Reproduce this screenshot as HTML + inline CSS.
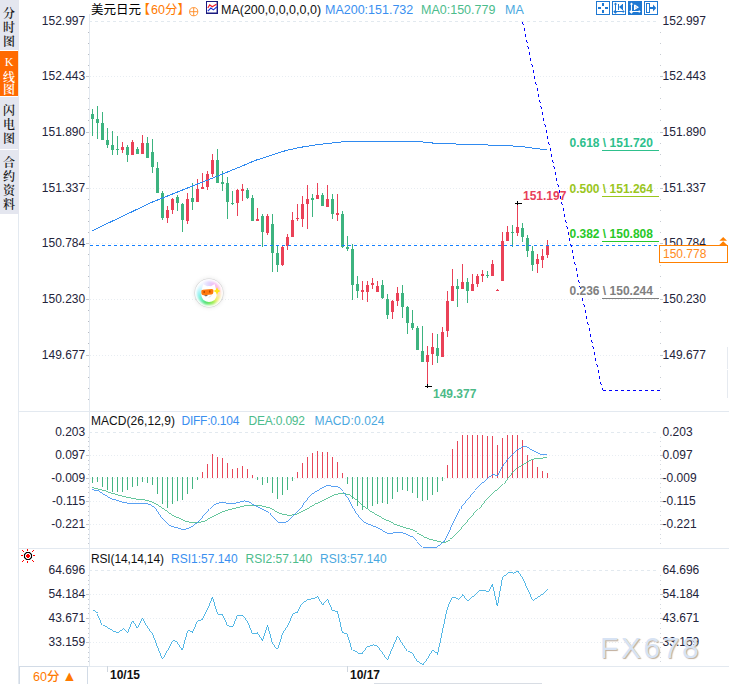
<!DOCTYPE html>
<html lang="zh-CN">
<head>
<meta charset="utf-8">
<title>美元日元 60分 K线图</title>
<style>
html,body{margin:0;padding:0;background:#fff;}
body{width:729px;height:684px;overflow:hidden;position:relative;font-family:"Liberation Sans","Noto Sans CJK SC",sans-serif;font-size:12px;color:#1a1a2a;}
#wrap{position:absolute;left:0;top:0;width:729px;height:684px;overflow:hidden;background:#fff;}
#chart{position:absolute;left:0;top:0;}
.t{position:absolute;white-space:nowrap;line-height:14px;height:14px;}
.ax{font-size:12px;color:#23233a;}
.r{text-align:right;}
.side{position:absolute;left:0;top:0;width:18px;}
.tab{position:absolute;left:0;width:18px;background:#e4e6ef;color:#1a1a1a;font-weight:600;text-align:center;font-family:"Liberation Serif","Noto Serif CJK SC",serif;font-size:12px;line-height:14px;}
.tab{border-right:1px solid #e4e6ef;}
.tab.on{background:#ff6a00;color:#fff;border-right-color:#f3e4d8;}
.tab span{display:block;}
.hd{top:2.8px;font-size:12.5px;line-height:15px;height:15px;}
.fib{font-weight:bold;font-size:12px;}
.ttl{font-size:12px;line-height:15px;height:15px;}
.ic{position:absolute;top:1px;width:12px;height:12px;border:1px solid #1e78d2;background:#fff;}
</style>
</head>
<body>
<div id="wrap">
<svg id="chart" width="729" height="684" viewBox="0 0 729 684">
<g shape-rendering="crispEdges">
<rect x="18" y="0" width="1" height="684" fill="#e3e9f0"/>
<rect x="89" y="14" width="1" height="652" fill="#e3e9f0"/>
<rect x="19" y="411" width="710" height="1" fill="#e3e9f0"/>
<rect x="19" y="548" width="710" height="1" fill="#e3e9f0"/>
<rect x="19" y="666" width="710" height="1" fill="#e3e9f0"/>
<line x1="89" x2="657" y1="21.5" y2="21.5" stroke="#e2e9ef" stroke-dasharray="3 3"/>
<line x1="90" x2="659" y1="76.5" y2="76.5" stroke="#e8edf2" stroke-dasharray="1 2"/>
<line x1="90" x2="659" y1="132.5" y2="132.5" stroke="#e8edf2" stroke-dasharray="1 2"/>
<line x1="90" x2="659" y1="188.5" y2="188.5" stroke="#e8edf2" stroke-dasharray="1 2"/>
<line x1="90" x2="659" y1="243.5" y2="243.5" stroke="#e8edf2" stroke-dasharray="1 2"/>
<line x1="90" x2="659" y1="299.5" y2="299.5" stroke="#e8edf2" stroke-dasharray="1 2"/>
<line x1="90" x2="659" y1="355.5" y2="355.5" stroke="#e8edf2" stroke-dasharray="1 2"/>
<line x1="89" x2="657" y1="432.5" y2="432.5" stroke="#e2e9ef" stroke-dasharray="3 3"/>
<line x1="90" x2="659" y1="455.5" y2="455.5" stroke="#e8edf2" stroke-dasharray="1 2"/>
<line x1="90" x2="659" y1="478.5" y2="478.5" stroke="#e8edf2" stroke-dasharray="1 2"/>
<line x1="90" x2="659" y1="501.5" y2="501.5" stroke="#e8edf2" stroke-dasharray="1 2"/>
<line x1="90" x2="659" y1="524.5" y2="524.5" stroke="#e8edf2" stroke-dasharray="1 2"/>
<line x1="89" x2="657" y1="570.5" y2="570.5" stroke="#e2e9ef" stroke-dasharray="3 3"/>
<line x1="90" x2="659" y1="594.5" y2="594.5" stroke="#e8edf2" stroke-dasharray="1 2"/>
<line x1="90" x2="659" y1="618.5" y2="618.5" stroke="#e8edf2" stroke-dasharray="1 2"/>
<line x1="90" x2="659" y1="642.5" y2="642.5" stroke="#e8edf2" stroke-dasharray="1 2"/>
<rect x="88" y="32" width="1" height="1" fill="#b8bcc4"/>
<rect x="660" y="32" width="1" height="1" fill="#c8ccd2"/>
<rect x="88" y="43" width="1" height="1" fill="#b8bcc4"/>
<rect x="660" y="43" width="1" height="1" fill="#c8ccd2"/>
<rect x="88" y="54" width="1" height="1" fill="#b8bcc4"/>
<rect x="660" y="54" width="1" height="1" fill="#c8ccd2"/>
<rect x="88" y="65" width="1" height="1" fill="#b8bcc4"/>
<rect x="660" y="65" width="1" height="1" fill="#c8ccd2"/>
<rect x="86" y="76" width="3" height="1" fill="#c4c8ce"/>
<rect x="660" y="76" width="3" height="1" fill="#c4c8ce"/>
<rect x="88" y="87" width="1" height="1" fill="#b8bcc4"/>
<rect x="660" y="87" width="1" height="1" fill="#c8ccd2"/>
<rect x="88" y="98" width="1" height="1" fill="#b8bcc4"/>
<rect x="660" y="98" width="1" height="1" fill="#c8ccd2"/>
<rect x="88" y="109" width="1" height="1" fill="#b8bcc4"/>
<rect x="660" y="109" width="1" height="1" fill="#c8ccd2"/>
<rect x="88" y="120" width="1" height="1" fill="#b8bcc4"/>
<rect x="660" y="120" width="1" height="1" fill="#c8ccd2"/>
<rect x="86" y="132" width="3" height="1" fill="#c4c8ce"/>
<rect x="660" y="132" width="3" height="1" fill="#c4c8ce"/>
<rect x="88" y="143" width="1" height="1" fill="#b8bcc4"/>
<rect x="660" y="143" width="1" height="1" fill="#c8ccd2"/>
<rect x="88" y="154" width="1" height="1" fill="#b8bcc4"/>
<rect x="660" y="154" width="1" height="1" fill="#c8ccd2"/>
<rect x="88" y="165" width="1" height="1" fill="#b8bcc4"/>
<rect x="660" y="165" width="1" height="1" fill="#c8ccd2"/>
<rect x="88" y="176" width="1" height="1" fill="#b8bcc4"/>
<rect x="660" y="176" width="1" height="1" fill="#c8ccd2"/>
<rect x="86" y="188" width="3" height="1" fill="#c4c8ce"/>
<rect x="660" y="188" width="3" height="1" fill="#c4c8ce"/>
<rect x="88" y="199" width="1" height="1" fill="#b8bcc4"/>
<rect x="660" y="199" width="1" height="1" fill="#c8ccd2"/>
<rect x="88" y="210" width="1" height="1" fill="#b8bcc4"/>
<rect x="660" y="210" width="1" height="1" fill="#c8ccd2"/>
<rect x="88" y="221" width="1" height="1" fill="#b8bcc4"/>
<rect x="660" y="221" width="1" height="1" fill="#c8ccd2"/>
<rect x="88" y="232" width="1" height="1" fill="#b8bcc4"/>
<rect x="660" y="232" width="1" height="1" fill="#c8ccd2"/>
<rect x="86" y="243" width="3" height="1" fill="#c4c8ce"/>
<rect x="660" y="243" width="3" height="1" fill="#c4c8ce"/>
<rect x="88" y="254" width="1" height="1" fill="#b8bcc4"/>
<rect x="660" y="254" width="1" height="1" fill="#c8ccd2"/>
<rect x="88" y="265" width="1" height="1" fill="#b8bcc4"/>
<rect x="660" y="265" width="1" height="1" fill="#c8ccd2"/>
<rect x="88" y="276" width="1" height="1" fill="#b8bcc4"/>
<rect x="660" y="276" width="1" height="1" fill="#c8ccd2"/>
<rect x="88" y="287" width="1" height="1" fill="#b8bcc4"/>
<rect x="660" y="287" width="1" height="1" fill="#c8ccd2"/>
<rect x="86" y="299" width="3" height="1" fill="#c4c8ce"/>
<rect x="660" y="299" width="3" height="1" fill="#c4c8ce"/>
<rect x="88" y="310" width="1" height="1" fill="#b8bcc4"/>
<rect x="660" y="310" width="1" height="1" fill="#c8ccd2"/>
<rect x="88" y="321" width="1" height="1" fill="#b8bcc4"/>
<rect x="660" y="321" width="1" height="1" fill="#c8ccd2"/>
<rect x="88" y="332" width="1" height="1" fill="#b8bcc4"/>
<rect x="660" y="332" width="1" height="1" fill="#c8ccd2"/>
<rect x="88" y="343" width="1" height="1" fill="#b8bcc4"/>
<rect x="660" y="343" width="1" height="1" fill="#c8ccd2"/>
<rect x="86" y="355" width="3" height="1" fill="#c4c8ce"/>
<rect x="660" y="355" width="3" height="1" fill="#c4c8ce"/>
<rect x="88" y="366" width="1" height="1" fill="#b8bcc4"/>
<rect x="660" y="366" width="1" height="1" fill="#c8ccd2"/>
<rect x="88" y="377" width="1" height="1" fill="#b8bcc4"/>
<rect x="660" y="377" width="1" height="1" fill="#c8ccd2"/>
<rect x="88" y="388" width="1" height="1" fill="#b8bcc4"/>
<rect x="660" y="388" width="1" height="1" fill="#c8ccd2"/>
<rect x="88" y="399" width="1" height="1" fill="#b8bcc4"/>
<rect x="660" y="399" width="1" height="1" fill="#c8ccd2"/>
<rect x="88" y="437" width="1" height="1" fill="#c4c8d0"/>
<rect x="660" y="437" width="1" height="1" fill="#d4d8de"/>
<rect x="88" y="441" width="1" height="1" fill="#c4c8d0"/>
<rect x="660" y="441" width="1" height="1" fill="#d4d8de"/>
<rect x="88" y="446" width="1" height="1" fill="#c4c8d0"/>
<rect x="660" y="446" width="1" height="1" fill="#d4d8de"/>
<rect x="88" y="450" width="1" height="1" fill="#c4c8d0"/>
<rect x="660" y="450" width="1" height="1" fill="#d4d8de"/>
<rect x="86" y="455" width="3" height="1" fill="#c4c8ce"/>
<rect x="660" y="455" width="3" height="1" fill="#c4c8ce"/>
<rect x="88" y="460" width="1" height="1" fill="#c4c8d0"/>
<rect x="660" y="460" width="1" height="1" fill="#d4d8de"/>
<rect x="88" y="464" width="1" height="1" fill="#c4c8d0"/>
<rect x="660" y="464" width="1" height="1" fill="#d4d8de"/>
<rect x="88" y="469" width="1" height="1" fill="#c4c8d0"/>
<rect x="660" y="469" width="1" height="1" fill="#d4d8de"/>
<rect x="88" y="474" width="1" height="1" fill="#c4c8d0"/>
<rect x="660" y="474" width="1" height="1" fill="#d4d8de"/>
<rect x="86" y="478" width="3" height="1" fill="#c4c8ce"/>
<rect x="660" y="478" width="3" height="1" fill="#c4c8ce"/>
<rect x="88" y="483" width="1" height="1" fill="#c4c8d0"/>
<rect x="660" y="483" width="1" height="1" fill="#d4d8de"/>
<rect x="88" y="487" width="1" height="1" fill="#c4c8d0"/>
<rect x="660" y="487" width="1" height="1" fill="#d4d8de"/>
<rect x="88" y="492" width="1" height="1" fill="#c4c8d0"/>
<rect x="660" y="492" width="1" height="1" fill="#d4d8de"/>
<rect x="88" y="497" width="1" height="1" fill="#c4c8d0"/>
<rect x="660" y="497" width="1" height="1" fill="#d4d8de"/>
<rect x="86" y="501" width="3" height="1" fill="#c4c8ce"/>
<rect x="660" y="501" width="3" height="1" fill="#c4c8ce"/>
<rect x="88" y="506" width="1" height="1" fill="#c4c8d0"/>
<rect x="660" y="506" width="1" height="1" fill="#d4d8de"/>
<rect x="88" y="511" width="1" height="1" fill="#c4c8d0"/>
<rect x="660" y="511" width="1" height="1" fill="#d4d8de"/>
<rect x="88" y="515" width="1" height="1" fill="#c4c8d0"/>
<rect x="660" y="515" width="1" height="1" fill="#d4d8de"/>
<rect x="88" y="520" width="1" height="1" fill="#c4c8d0"/>
<rect x="660" y="520" width="1" height="1" fill="#d4d8de"/>
<rect x="86" y="524" width="3" height="1" fill="#c4c8ce"/>
<rect x="660" y="524" width="3" height="1" fill="#c4c8ce"/>
<rect x="88" y="529" width="1" height="1" fill="#c4c8d0"/>
<rect x="660" y="529" width="1" height="1" fill="#d4d8de"/>
<rect x="88" y="534" width="1" height="1" fill="#c4c8d0"/>
<rect x="660" y="534" width="1" height="1" fill="#d4d8de"/>
<rect x="88" y="538" width="1" height="1" fill="#c4c8d0"/>
<rect x="660" y="538" width="1" height="1" fill="#d4d8de"/>
<rect x="88" y="543" width="1" height="1" fill="#c4c8d0"/>
<rect x="660" y="543" width="1" height="1" fill="#d4d8de"/>
<rect x="88" y="575" width="1" height="1" fill="#c4c8d0"/>
<rect x="660" y="575" width="1" height="1" fill="#d4d8de"/>
<rect x="88" y="580" width="1" height="1" fill="#c4c8d0"/>
<rect x="660" y="580" width="1" height="1" fill="#d4d8de"/>
<rect x="88" y="584" width="1" height="1" fill="#c4c8d0"/>
<rect x="660" y="584" width="1" height="1" fill="#d4d8de"/>
<rect x="88" y="589" width="1" height="1" fill="#c4c8d0"/>
<rect x="660" y="589" width="1" height="1" fill="#d4d8de"/>
<rect x="86" y="594" width="3" height="1" fill="#c4c8ce"/>
<rect x="660" y="594" width="3" height="1" fill="#c4c8ce"/>
<rect x="88" y="599" width="1" height="1" fill="#c4c8d0"/>
<rect x="660" y="599" width="1" height="1" fill="#d4d8de"/>
<rect x="88" y="604" width="1" height="1" fill="#c4c8d0"/>
<rect x="660" y="604" width="1" height="1" fill="#d4d8de"/>
<rect x="88" y="608" width="1" height="1" fill="#c4c8d0"/>
<rect x="660" y="608" width="1" height="1" fill="#d4d8de"/>
<rect x="88" y="613" width="1" height="1" fill="#c4c8d0"/>
<rect x="660" y="613" width="1" height="1" fill="#d4d8de"/>
<rect x="86" y="618" width="3" height="1" fill="#c4c8ce"/>
<rect x="660" y="618" width="3" height="1" fill="#c4c8ce"/>
<rect x="88" y="623" width="1" height="1" fill="#c4c8d0"/>
<rect x="660" y="623" width="1" height="1" fill="#d4d8de"/>
<rect x="88" y="628" width="1" height="1" fill="#c4c8d0"/>
<rect x="660" y="628" width="1" height="1" fill="#d4d8de"/>
<rect x="88" y="633" width="1" height="1" fill="#c4c8d0"/>
<rect x="660" y="633" width="1" height="1" fill="#d4d8de"/>
<rect x="88" y="637" width="1" height="1" fill="#c4c8d0"/>
<rect x="660" y="637" width="1" height="1" fill="#d4d8de"/>
<rect x="86" y="642" width="3" height="1" fill="#c4c8ce"/>
<rect x="660" y="642" width="3" height="1" fill="#c4c8ce"/>
<rect x="88" y="647" width="1" height="1" fill="#c4c8d0"/>
<rect x="660" y="647" width="1" height="1" fill="#d4d8de"/>
<rect x="88" y="652" width="1" height="1" fill="#c4c8d0"/>
<rect x="660" y="652" width="1" height="1" fill="#d4d8de"/>
<rect x="88" y="657" width="1" height="1" fill="#c4c8d0"/>
<rect x="660" y="657" width="1" height="1" fill="#d4d8de"/>
<rect x="88" y="661" width="1" height="1" fill="#c4c8d0"/>
<rect x="660" y="661" width="1" height="1" fill="#d4d8de"/>
<rect x="107" y="666" width="1" height="6" fill="#cfd6de"/>
<rect x="347" y="666" width="1" height="6" fill="#cfd6de"/>
<rect x="374" y="683" width="168" height="1" fill="#d8dde4"/>
<rect x="727" y="347" width="1" height="22" fill="#e6eaf0"/><rect x="727" y="370" width="1" height="28" fill="#e6eaf0"/>
</g>
<g shape-rendering="crispEdges">
<rect x="92.0" y="109" width="1" height="27" fill="#3db37f"/>
<rect x="91.0" y="114" width="3" height="5" fill="#3db37f"/>
<rect x="97.0" y="106" width="1" height="33" fill="#3db37f"/>
<rect x="96.0" y="119" width="3" height="4" fill="#3db37f"/>
<rect x="102.0" y="112" width="1" height="28" fill="#3db37f"/>
<rect x="101.0" y="123" width="3" height="17" fill="#3db37f"/>
<rect x="107.0" y="128" width="1" height="20" fill="#3db37f"/>
<rect x="106.0" y="140" width="3" height="5" fill="#3db37f"/>
<rect x="112.0" y="131" width="1" height="24" fill="#3db37f"/>
<rect x="111.0" y="145" width="3" height="5" fill="#3db37f"/>
<rect x="117.0" y="136" width="1" height="19" fill="#3db37f"/>
<rect x="116.0" y="149" width="3" height="1" fill="#3db37f"/>
<rect x="122.0" y="142" width="1" height="11" fill="#ea4157"/>
<rect x="121.0" y="147" width="3" height="3" fill="#ea4157"/>
<rect x="127.0" y="145" width="1" height="17" fill="#3db37f"/>
<rect x="126.0" y="147" width="3" height="8" fill="#3db37f"/>
<rect x="132.0" y="140" width="1" height="15" fill="#ea4157"/>
<rect x="131.0" y="142" width="3" height="13" fill="#ea4157"/>
<rect x="137.0" y="147" width="1" height="7" fill="#3db37f"/>
<rect x="136.0" y="149" width="3" height="5" fill="#3db37f"/>
<rect x="142.0" y="135" width="1" height="19" fill="#ea4157"/>
<rect x="141.0" y="143" width="3" height="11" fill="#ea4157"/>
<rect x="147.0" y="137" width="1" height="21" fill="#3db37f"/>
<rect x="146.0" y="143" width="3" height="15" fill="#3db37f"/>
<rect x="152.0" y="139" width="1" height="34" fill="#3db37f"/>
<rect x="151.0" y="152" width="3" height="15" fill="#3db37f"/>
<rect x="157.0" y="162" width="1" height="31" fill="#3db37f"/>
<rect x="156.0" y="168" width="3" height="25" fill="#3db37f"/>
<rect x="162.0" y="191" width="1" height="29" fill="#3db37f"/>
<rect x="161.0" y="193" width="3" height="25" fill="#3db37f"/>
<rect x="167.0" y="206" width="1" height="17" fill="#ea4157"/>
<rect x="166.0" y="210" width="3" height="8" fill="#ea4157"/>
<rect x="172.0" y="198" width="1" height="16" fill="#ea4157"/>
<rect x="171.0" y="199" width="3" height="11" fill="#ea4157"/>
<rect x="177.0" y="195" width="1" height="16" fill="#3db37f"/>
<rect x="176.0" y="197" width="3" height="6" fill="#3db37f"/>
<rect x="182.0" y="203" width="1" height="29" fill="#3db37f"/>
<rect x="181.0" y="204" width="3" height="16" fill="#3db37f"/>
<rect x="187.0" y="193" width="1" height="31" fill="#ea4157"/>
<rect x="186.0" y="199" width="3" height="22" fill="#ea4157"/>
<rect x="192.0" y="183" width="1" height="27" fill="#3db37f"/>
<rect x="191.0" y="198" width="3" height="4" fill="#3db37f"/>
<rect x="197.0" y="179" width="1" height="23" fill="#ea4157"/>
<rect x="196.0" y="189" width="3" height="13" fill="#ea4157"/>
<rect x="202.0" y="173" width="1" height="16" fill="#ea4157"/>
<rect x="201.0" y="187" width="3" height="2" fill="#ea4157"/>
<rect x="207.0" y="171" width="1" height="19" fill="#ea4157"/>
<rect x="206.0" y="174" width="3" height="13" fill="#ea4157"/>
<rect x="212.0" y="154" width="1" height="23" fill="#ea4157"/>
<rect x="211.0" y="160" width="3" height="14" fill="#ea4157"/>
<rect x="217.0" y="149" width="1" height="34" fill="#3db37f"/>
<rect x="216.0" y="160" width="3" height="23" fill="#3db37f"/>
<rect x="222.0" y="171" width="1" height="20" fill="#3db37f"/>
<rect x="221.0" y="182" width="3" height="2" fill="#3db37f"/>
<rect x="227.0" y="177" width="1" height="42" fill="#3db37f"/>
<rect x="226.0" y="183" width="3" height="19" fill="#3db37f"/>
<rect x="232.0" y="191" width="1" height="14" fill="#3db37f"/>
<rect x="231.0" y="203" width="3" height="1" fill="#3db37f"/>
<rect x="237.0" y="189" width="1" height="27" fill="#ea4157"/>
<rect x="236.0" y="190" width="3" height="13" fill="#ea4157"/>
<rect x="242.0" y="184" width="1" height="17" fill="#ea4157"/>
<rect x="241.0" y="189" width="3" height="2" fill="#ea4157"/>
<rect x="247.0" y="188" width="1" height="11" fill="#3db37f"/>
<rect x="246.0" y="190" width="3" height="8" fill="#3db37f"/>
<rect x="252.0" y="195" width="1" height="26" fill="#3db37f"/>
<rect x="251.0" y="198" width="3" height="23" fill="#3db37f"/>
<rect x="257.0" y="208" width="1" height="13" fill="#ea4157"/>
<rect x="256.0" y="219" width="3" height="2" fill="#ea4157"/>
<rect x="262.0" y="214" width="1" height="33" fill="#3db37f"/>
<rect x="261.0" y="216" width="3" height="16" fill="#3db37f"/>
<rect x="267.0" y="214" width="1" height="21" fill="#ea4157"/>
<rect x="266.0" y="216" width="3" height="17" fill="#ea4157"/>
<rect x="272.0" y="214" width="1" height="58" fill="#3db37f"/>
<rect x="271.0" y="224" width="3" height="29" fill="#3db37f"/>
<rect x="277.0" y="246" width="1" height="26" fill="#3db37f"/>
<rect x="276.0" y="253" width="3" height="12" fill="#3db37f"/>
<rect x="282.0" y="246" width="1" height="20" fill="#ea4157"/>
<rect x="281.0" y="247" width="3" height="18" fill="#ea4157"/>
<rect x="287.0" y="234" width="1" height="16" fill="#ea4157"/>
<rect x="286.0" y="237" width="3" height="9" fill="#ea4157"/>
<rect x="292.0" y="212" width="1" height="25" fill="#ea4157"/>
<rect x="291.0" y="220" width="3" height="17" fill="#ea4157"/>
<rect x="297.0" y="204" width="1" height="17" fill="#ea4157"/>
<rect x="296.0" y="218" width="3" height="1" fill="#ea4157"/>
<rect x="302.0" y="196" width="1" height="31" fill="#ea4157"/>
<rect x="301.0" y="204" width="3" height="15" fill="#ea4157"/>
<rect x="307.0" y="185" width="1" height="44" fill="#ea4157"/>
<rect x="306.0" y="199" width="3" height="5" fill="#ea4157"/>
<rect x="312.0" y="194" width="1" height="23" fill="#3db37f"/>
<rect x="311.0" y="198" width="3" height="2" fill="#3db37f"/>
<rect x="317.0" y="183" width="1" height="16" fill="#ea4157"/>
<rect x="316.0" y="195" width="3" height="4" fill="#ea4157"/>
<rect x="322.0" y="193" width="1" height="13" fill="#3db37f"/>
<rect x="321.0" y="195" width="3" height="11" fill="#3db37f"/>
<rect x="327.0" y="185" width="1" height="22" fill="#ea4157"/>
<rect x="326.0" y="199" width="3" height="8" fill="#ea4157"/>
<rect x="332.0" y="194" width="1" height="25" fill="#3db37f"/>
<rect x="331.0" y="199" width="3" height="15" fill="#3db37f"/>
<rect x="337.0" y="194" width="1" height="27" fill="#ea4157"/>
<rect x="336.0" y="213" width="3" height="2" fill="#ea4157"/>
<rect x="342.0" y="211" width="1" height="37" fill="#3db37f"/>
<rect x="341.0" y="214" width="3" height="33" fill="#3db37f"/>
<rect x="347.0" y="236" width="1" height="15" fill="#3db37f"/>
<rect x="346.0" y="247" width="3" height="2" fill="#3db37f"/>
<rect x="352.0" y="244" width="1" height="56" fill="#3db37f"/>
<rect x="351.0" y="249" width="3" height="36" fill="#3db37f"/>
<rect x="357.0" y="276" width="1" height="22" fill="#3db37f"/>
<rect x="356.0" y="284" width="3" height="7" fill="#3db37f"/>
<rect x="362.0" y="281" width="1" height="19" fill="#ea4157"/>
<rect x="361.0" y="290" width="3" height="2" fill="#ea4157"/>
<rect x="367.0" y="281" width="1" height="21" fill="#ea4157"/>
<rect x="366.0" y="285" width="3" height="7" fill="#ea4157"/>
<rect x="372.0" y="278" width="1" height="11" fill="#ea4157"/>
<rect x="371.0" y="283" width="3" height="2" fill="#ea4157"/>
<rect x="377.0" y="281" width="1" height="11" fill="#ea4157"/>
<rect x="376.0" y="286" width="3" height="6" fill="#ea4157"/>
<rect x="382.0" y="280" width="1" height="19" fill="#3db37f"/>
<rect x="381.0" y="285" width="3" height="13" fill="#3db37f"/>
<rect x="387.0" y="294" width="1" height="25" fill="#3db37f"/>
<rect x="386.0" y="299" width="3" height="16" fill="#3db37f"/>
<rect x="392.0" y="300" width="1" height="19" fill="#ea4157"/>
<rect x="391.0" y="301" width="3" height="11" fill="#ea4157"/>
<rect x="397.0" y="287" width="1" height="19" fill="#ea4157"/>
<rect x="396.0" y="293" width="3" height="8" fill="#ea4157"/>
<rect x="402.0" y="285" width="1" height="33" fill="#3db37f"/>
<rect x="401.0" y="293" width="3" height="14" fill="#3db37f"/>
<rect x="407.0" y="306" width="1" height="28" fill="#3db37f"/>
<rect x="406.0" y="307" width="3" height="16" fill="#3db37f"/>
<rect x="412.0" y="310" width="1" height="20" fill="#3db37f"/>
<rect x="411.0" y="323" width="3" height="5" fill="#3db37f"/>
<rect x="417.0" y="326" width="1" height="24" fill="#3db37f"/>
<rect x="416.0" y="328" width="3" height="22" fill="#3db37f"/>
<rect x="422.0" y="326" width="1" height="36" fill="#3db37f"/>
<rect x="421.0" y="351" width="3" height="11" fill="#3db37f"/>
<rect x="427.0" y="346" width="1" height="38" fill="#ea4157"/>
<rect x="426.0" y="355" width="3" height="7" fill="#ea4157"/>
<rect x="432.0" y="333" width="1" height="32" fill="#ea4157"/>
<rect x="431.0" y="347" width="3" height="7" fill="#ea4157"/>
<rect x="437.0" y="334" width="1" height="29" fill="#3db37f"/>
<rect x="436.0" y="348" width="3" height="8" fill="#3db37f"/>
<rect x="442.0" y="327" width="1" height="30" fill="#ea4157"/>
<rect x="441.0" y="332" width="3" height="25" fill="#ea4157"/>
<rect x="447.0" y="291" width="1" height="46" fill="#ea4157"/>
<rect x="446.0" y="301" width="3" height="30" fill="#ea4157"/>
<rect x="452.0" y="269" width="1" height="32" fill="#ea4157"/>
<rect x="451.0" y="286" width="3" height="15" fill="#ea4157"/>
<rect x="457.0" y="279" width="1" height="28" fill="#3db37f"/>
<rect x="456.0" y="286" width="3" height="3" fill="#3db37f"/>
<rect x="462.0" y="264" width="1" height="25" fill="#ea4157"/>
<rect x="461.0" y="282" width="3" height="7" fill="#ea4157"/>
<rect x="467.0" y="278" width="1" height="25" fill="#3db37f"/>
<rect x="466.0" y="282" width="3" height="9" fill="#3db37f"/>
<rect x="472.0" y="274" width="1" height="17" fill="#ea4157"/>
<rect x="471.0" y="284" width="3" height="7" fill="#ea4157"/>
<rect x="477.0" y="274" width="1" height="13" fill="#ea4157"/>
<rect x="476.0" y="276" width="3" height="8" fill="#ea4157"/>
<rect x="482.0" y="270" width="1" height="12" fill="#ea4157"/>
<rect x="481.0" y="274" width="3" height="2" fill="#ea4157"/>
<rect x="487.0" y="271" width="1" height="7" fill="#3db37f"/>
<rect x="486.0" y="275" width="3" height="1" fill="#3db37f"/>
<rect x="492.0" y="260" width="1" height="16" fill="#ea4157"/>
<rect x="491.0" y="264" width="3" height="12" fill="#ea4157"/>
<rect x="497.0" y="289" width="1" height="1" fill="#ea4157"/>
<rect x="496.0" y="290" width="3" height="1" fill="#ea4157"/>
<rect x="502.0" y="232" width="1" height="49" fill="#ea4157"/>
<rect x="501.0" y="241" width="3" height="40" fill="#ea4157"/>
<rect x="507.0" y="226" width="1" height="15" fill="#ea4157"/>
<rect x="506.0" y="232" width="3" height="9" fill="#ea4157"/>
<rect x="512.0" y="225" width="1" height="22" fill="#3db37f"/>
<rect x="511.0" y="232" width="3" height="1" fill="#3db37f"/>
<rect x="517.0" y="205" width="1" height="31" fill="#ea4157"/>
<rect x="516.0" y="227" width="3" height="6" fill="#ea4157"/>
<rect x="522.0" y="223" width="1" height="19" fill="#3db37f"/>
<rect x="521.0" y="228" width="3" height="9" fill="#3db37f"/>
<rect x="527.0" y="235" width="1" height="22" fill="#3db37f"/>
<rect x="526.0" y="238" width="3" height="13" fill="#3db37f"/>
<rect x="532.0" y="246" width="1" height="25" fill="#3db37f"/>
<rect x="531.0" y="251" width="3" height="14" fill="#3db37f"/>
<rect x="537.0" y="254" width="1" height="19" fill="#ea4157"/>
<rect x="536.0" y="259" width="3" height="5" fill="#ea4157"/>
<rect x="542.0" y="249" width="1" height="19" fill="#ea4157"/>
<rect x="541.0" y="256" width="3" height="4" fill="#ea4157"/>
<rect x="547.0" y="240" width="1" height="18" fill="#ea4157"/>
<rect x="546.0" y="245" width="3" height="10" fill="#ea4157"/>
</g>
<path d="M92.2 230.7 L117.9 218.5 L150.8 202.7 L183.8 189.5 L216.7 176.4 L240.0 166.9 L255.4 160.4 L269.4 155.8 L286.1 150.5 L300.0 147.4 L314.6 145.1 L330.0 143.2 L345.4 141.5 L418.8 141.5 L435.2 143.3 L468.0 144.4 L501.0 145.4 L520.8 146.4 L534.0 148.3 L547.2 149.9" fill="none" stroke="#2f8af0" stroke-width="1" shape-rendering="crispEdges"/>
<g shape-rendering="crispEdges" fill="#000"><rect x="515" y="203" width="7" height="1"/><rect x="517" y="201" width="1" height="4"/><rect x="425" y="386" width="7" height="1"/><rect x="427" y="384" width="1" height="4"/></g>
<g shape-rendering="crispEdges">
<rect x="90" y="245" width="3" height="1" fill="#1480ff"/>
<rect x="96" y="245" width="3" height="1" fill="#1480ff"/>
<rect x="102" y="245" width="3" height="1" fill="#1480ff"/>
<rect x="108" y="245" width="3" height="1" fill="#1480ff"/>
<rect x="114" y="245" width="3" height="1" fill="#1480ff"/>
<rect x="120" y="245" width="3" height="1" fill="#1480ff"/>
<rect x="126" y="245" width="3" height="1" fill="#1480ff"/>
<rect x="132" y="245" width="3" height="1" fill="#1480ff"/>
<rect x="138" y="245" width="3" height="1" fill="#1480ff"/>
<rect x="144" y="245" width="3" height="1" fill="#1480ff"/>
<rect x="150" y="245" width="3" height="1" fill="#1480ff"/>
<rect x="156" y="245" width="3" height="1" fill="#1480ff"/>
<rect x="162" y="245" width="3" height="1" fill="#1480ff"/>
<rect x="168" y="245" width="3" height="1" fill="#1480ff"/>
<rect x="174" y="245" width="3" height="1" fill="#1480ff"/>
<rect x="180" y="245" width="3" height="1" fill="#1480ff"/>
<rect x="186" y="245" width="3" height="1" fill="#1480ff"/>
<rect x="192" y="245" width="3" height="1" fill="#1480ff"/>
<rect x="198" y="245" width="3" height="1" fill="#1480ff"/>
<rect x="204" y="245" width="3" height="1" fill="#1480ff"/>
<rect x="210" y="245" width="3" height="1" fill="#1480ff"/>
<rect x="216" y="245" width="3" height="1" fill="#1480ff"/>
<rect x="222" y="245" width="3" height="1" fill="#1480ff"/>
<rect x="228" y="245" width="3" height="1" fill="#1480ff"/>
<rect x="234" y="245" width="3" height="1" fill="#1480ff"/>
<rect x="240" y="245" width="3" height="1" fill="#1480ff"/>
<rect x="246" y="245" width="3" height="1" fill="#1480ff"/>
<rect x="252" y="245" width="3" height="1" fill="#1480ff"/>
<rect x="258" y="245" width="3" height="1" fill="#1480ff"/>
<rect x="264" y="245" width="3" height="1" fill="#1480ff"/>
<rect x="270" y="245" width="3" height="1" fill="#1480ff"/>
<rect x="276" y="245" width="3" height="1" fill="#1480ff"/>
<rect x="282" y="245" width="3" height="1" fill="#1480ff"/>
<rect x="288" y="245" width="3" height="1" fill="#1480ff"/>
<rect x="294" y="245" width="3" height="1" fill="#1480ff"/>
<rect x="300" y="245" width="3" height="1" fill="#1480ff"/>
<rect x="306" y="245" width="3" height="1" fill="#1480ff"/>
<rect x="312" y="245" width="3" height="1" fill="#1480ff"/>
<rect x="318" y="245" width="3" height="1" fill="#1480ff"/>
<rect x="324" y="245" width="3" height="1" fill="#1480ff"/>
<rect x="330" y="245" width="3" height="1" fill="#1480ff"/>
<rect x="336" y="245" width="3" height="1" fill="#1480ff"/>
<rect x="342" y="245" width="3" height="1" fill="#1480ff"/>
<rect x="348" y="245" width="3" height="1" fill="#1480ff"/>
<rect x="354" y="245" width="3" height="1" fill="#1480ff"/>
<rect x="360" y="245" width="3" height="1" fill="#1480ff"/>
<rect x="366" y="245" width="3" height="1" fill="#1480ff"/>
<rect x="372" y="245" width="3" height="1" fill="#1480ff"/>
<rect x="378" y="245" width="3" height="1" fill="#1480ff"/>
<rect x="384" y="245" width="3" height="1" fill="#1480ff"/>
<rect x="390" y="245" width="3" height="1" fill="#1480ff"/>
<rect x="396" y="245" width="3" height="1" fill="#1480ff"/>
<rect x="402" y="245" width="3" height="1" fill="#1480ff"/>
<rect x="408" y="245" width="3" height="1" fill="#1480ff"/>
<rect x="414" y="245" width="3" height="1" fill="#1480ff"/>
<rect x="420" y="245" width="3" height="1" fill="#1480ff"/>
<rect x="426" y="245" width="3" height="1" fill="#1480ff"/>
<rect x="432" y="245" width="3" height="1" fill="#1480ff"/>
<rect x="438" y="245" width="3" height="1" fill="#1480ff"/>
<rect x="444" y="245" width="3" height="1" fill="#1480ff"/>
<rect x="450" y="245" width="3" height="1" fill="#1480ff"/>
<rect x="456" y="245" width="3" height="1" fill="#1480ff"/>
<rect x="462" y="245" width="3" height="1" fill="#1480ff"/>
<rect x="468" y="245" width="3" height="1" fill="#1480ff"/>
<rect x="474" y="245" width="3" height="1" fill="#1480ff"/>
<rect x="480" y="245" width="3" height="1" fill="#1480ff"/>
<rect x="486" y="245" width="3" height="1" fill="#1480ff"/>
<rect x="492" y="245" width="3" height="1" fill="#1480ff"/>
<rect x="498" y="245" width="3" height="1" fill="#1480ff"/>
<rect x="504" y="245" width="3" height="1" fill="#1480ff"/>
<rect x="510" y="245" width="3" height="1" fill="#1480ff"/>
<rect x="516" y="245" width="3" height="1" fill="#1480ff"/>
<rect x="522" y="245" width="3" height="1" fill="#1480ff"/>
<rect x="528" y="245" width="3" height="1" fill="#1480ff"/>
<rect x="534" y="245" width="3" height="1" fill="#1480ff"/>
<rect x="540" y="245" width="3" height="1" fill="#1480ff"/>
<rect x="546" y="245" width="3" height="1" fill="#1480ff"/>
<rect x="552" y="245" width="3" height="1" fill="#1480ff"/>
<rect x="558" y="245" width="3" height="1" fill="#1480ff"/>
<rect x="564" y="245" width="3" height="1" fill="#1480ff"/>
<rect x="570" y="245" width="3" height="1" fill="#1480ff"/>
<rect x="576" y="245" width="3" height="1" fill="#1480ff"/>
<rect x="582" y="245" width="3" height="1" fill="#1480ff"/>
<rect x="588" y="245" width="3" height="1" fill="#1480ff"/>
<rect x="594" y="245" width="3" height="1" fill="#1480ff"/>
<rect x="600" y="245" width="3" height="1" fill="#1480ff"/>
<rect x="606" y="245" width="3" height="1" fill="#1480ff"/>
<rect x="612" y="245" width="3" height="1" fill="#1480ff"/>
<rect x="618" y="245" width="3" height="1" fill="#1480ff"/>
<rect x="624" y="245" width="3" height="1" fill="#1480ff"/>
<rect x="630" y="245" width="3" height="1" fill="#1480ff"/>
<rect x="636" y="245" width="3" height="1" fill="#1480ff"/>
<rect x="642" y="245" width="3" height="1" fill="#1480ff"/>
<rect x="648" y="245" width="3" height="1" fill="#1480ff"/>
<rect x="654" y="245" width="3" height="1" fill="#1480ff"/>
<rect x="522" y="22" width="1" height="1" fill="#0000ff"/>
<rect x="522" y="23" width="1" height="1" fill="#0000ff"/>
<rect x="523" y="24" width="1" height="1" fill="#0000ff"/>
<rect x="524" y="28" width="1" height="1" fill="#0000ff"/>
<rect x="524" y="29" width="1" height="1" fill="#0000ff"/>
<rect x="524" y="30" width="1" height="1" fill="#0000ff"/>
<rect x="525" y="34" width="1" height="1" fill="#0000ff"/>
<rect x="525" y="35" width="1" height="1" fill="#0000ff"/>
<rect x="525" y="36" width="1" height="1" fill="#0000ff"/>
<rect x="526" y="40" width="1" height="1" fill="#0000ff"/>
<rect x="526" y="41" width="1" height="1" fill="#0000ff"/>
<rect x="527" y="42" width="1" height="1" fill="#0000ff"/>
<rect x="527" y="46" width="1" height="1" fill="#0000ff"/>
<rect x="528" y="47" width="1" height="1" fill="#0000ff"/>
<rect x="528" y="48" width="1" height="1" fill="#0000ff"/>
<rect x="529" y="52" width="1" height="1" fill="#0000ff"/>
<rect x="529" y="53" width="1" height="1" fill="#0000ff"/>
<rect x="529" y="54" width="1" height="1" fill="#0000ff"/>
<rect x="530" y="58" width="1" height="1" fill="#0000ff"/>
<rect x="530" y="59" width="1" height="1" fill="#0000ff"/>
<rect x="530" y="60" width="1" height="1" fill="#0000ff"/>
<rect x="531" y="64" width="1" height="1" fill="#0000ff"/>
<rect x="532" y="65" width="1" height="1" fill="#0000ff"/>
<rect x="532" y="66" width="1" height="1" fill="#0000ff"/>
<rect x="533" y="70" width="1" height="1" fill="#0000ff"/>
<rect x="533" y="71" width="1" height="1" fill="#0000ff"/>
<rect x="533" y="72" width="1" height="1" fill="#0000ff"/>
<rect x="534" y="76" width="1" height="1" fill="#0000ff"/>
<rect x="534" y="77" width="1" height="1" fill="#0000ff"/>
<rect x="534" y="78" width="1" height="1" fill="#0000ff"/>
<rect x="535" y="82" width="1" height="1" fill="#0000ff"/>
<rect x="535" y="83" width="1" height="1" fill="#0000ff"/>
<rect x="536" y="84" width="1" height="1" fill="#0000ff"/>
<rect x="537" y="88" width="1" height="1" fill="#0000ff"/>
<rect x="537" y="89" width="1" height="1" fill="#0000ff"/>
<rect x="537" y="90" width="1" height="1" fill="#0000ff"/>
<rect x="538" y="94" width="1" height="1" fill="#0000ff"/>
<rect x="538" y="95" width="1" height="1" fill="#0000ff"/>
<rect x="538" y="96" width="1" height="1" fill="#0000ff"/>
<rect x="539" y="100" width="1" height="1" fill="#0000ff"/>
<rect x="539" y="101" width="1" height="1" fill="#0000ff"/>
<rect x="540" y="102" width="1" height="1" fill="#0000ff"/>
<rect x="540" y="106" width="1" height="1" fill="#0000ff"/>
<rect x="541" y="107" width="1" height="1" fill="#0000ff"/>
<rect x="541" y="108" width="1" height="1" fill="#0000ff"/>
<rect x="542" y="112" width="1" height="1" fill="#0000ff"/>
<rect x="542" y="113" width="1" height="1" fill="#0000ff"/>
<rect x="542" y="114" width="1" height="1" fill="#0000ff"/>
<rect x="543" y="118" width="1" height="1" fill="#0000ff"/>
<rect x="543" y="119" width="1" height="1" fill="#0000ff"/>
<rect x="543" y="120" width="1" height="1" fill="#0000ff"/>
<rect x="544" y="124" width="1" height="1" fill="#0000ff"/>
<rect x="545" y="125" width="1" height="1" fill="#0000ff"/>
<rect x="545" y="126" width="1" height="1" fill="#0000ff"/>
<rect x="546" y="130" width="1" height="1" fill="#0000ff"/>
<rect x="546" y="131" width="1" height="1" fill="#0000ff"/>
<rect x="546" y="132" width="1" height="1" fill="#0000ff"/>
<rect x="547" y="136" width="1" height="1" fill="#0000ff"/>
<rect x="547" y="137" width="1" height="1" fill="#0000ff"/>
<rect x="547" y="138" width="1" height="1" fill="#0000ff"/>
<rect x="548" y="142" width="1" height="1" fill="#0000ff"/>
<rect x="548" y="143" width="1" height="1" fill="#0000ff"/>
<rect x="549" y="144" width="1" height="1" fill="#0000ff"/>
<rect x="550" y="148" width="1" height="1" fill="#0000ff"/>
<rect x="550" y="149" width="1" height="1" fill="#0000ff"/>
<rect x="550" y="150" width="1" height="1" fill="#0000ff"/>
<rect x="551" y="154" width="1" height="1" fill="#0000ff"/>
<rect x="551" y="155" width="1" height="1" fill="#0000ff"/>
<rect x="551" y="156" width="1" height="1" fill="#0000ff"/>
<rect x="552" y="160" width="1" height="1" fill="#0000ff"/>
<rect x="552" y="161" width="1" height="1" fill="#0000ff"/>
<rect x="553" y="162" width="1" height="1" fill="#0000ff"/>
<rect x="553" y="166" width="1" height="1" fill="#0000ff"/>
<rect x="554" y="167" width="1" height="1" fill="#0000ff"/>
<rect x="554" y="168" width="1" height="1" fill="#0000ff"/>
<rect x="555" y="172" width="1" height="1" fill="#0000ff"/>
<rect x="555" y="173" width="1" height="1" fill="#0000ff"/>
<rect x="555" y="174" width="1" height="1" fill="#0000ff"/>
<rect x="556" y="178" width="1" height="1" fill="#0000ff"/>
<rect x="556" y="179" width="1" height="1" fill="#0000ff"/>
<rect x="556" y="180" width="1" height="1" fill="#0000ff"/>
<rect x="557" y="184" width="1" height="1" fill="#0000ff"/>
<rect x="558" y="185" width="1" height="1" fill="#0000ff"/>
<rect x="558" y="186" width="1" height="1" fill="#0000ff"/>
<rect x="559" y="190" width="1" height="1" fill="#0000ff"/>
<rect x="559" y="191" width="1" height="1" fill="#0000ff"/>
<rect x="559" y="192" width="1" height="1" fill="#0000ff"/>
<rect x="560" y="196" width="1" height="1" fill="#0000ff"/>
<rect x="560" y="197" width="1" height="1" fill="#0000ff"/>
<rect x="560" y="198" width="1" height="1" fill="#0000ff"/>
<rect x="561" y="202" width="1" height="1" fill="#0000ff"/>
<rect x="561" y="203" width="1" height="1" fill="#0000ff"/>
<rect x="562" y="204" width="1" height="1" fill="#0000ff"/>
<rect x="563" y="208" width="1" height="1" fill="#0000ff"/>
<rect x="563" y="209" width="1" height="1" fill="#0000ff"/>
<rect x="563" y="210" width="1" height="1" fill="#0000ff"/>
<rect x="564" y="214" width="1" height="1" fill="#0000ff"/>
<rect x="564" y="215" width="1" height="1" fill="#0000ff"/>
<rect x="564" y="216" width="1" height="1" fill="#0000ff"/>
<rect x="565" y="220" width="1" height="1" fill="#0000ff"/>
<rect x="565" y="221" width="1" height="1" fill="#0000ff"/>
<rect x="566" y="222" width="1" height="1" fill="#0000ff"/>
<rect x="566" y="226" width="1" height="1" fill="#0000ff"/>
<rect x="567" y="227" width="1" height="1" fill="#0000ff"/>
<rect x="567" y="228" width="1" height="1" fill="#0000ff"/>
<rect x="568" y="232" width="1" height="1" fill="#0000ff"/>
<rect x="568" y="233" width="1" height="1" fill="#0000ff"/>
<rect x="568" y="234" width="1" height="1" fill="#0000ff"/>
<rect x="569" y="238" width="1" height="1" fill="#0000ff"/>
<rect x="569" y="239" width="1" height="1" fill="#0000ff"/>
<rect x="569" y="240" width="1" height="1" fill="#0000ff"/>
<rect x="570" y="244" width="1" height="1" fill="#0000ff"/>
<rect x="571" y="245" width="1" height="1" fill="#0000ff"/>
<rect x="571" y="246" width="1" height="1" fill="#0000ff"/>
<rect x="572" y="250" width="1" height="1" fill="#0000ff"/>
<rect x="572" y="251" width="1" height="1" fill="#0000ff"/>
<rect x="572" y="252" width="1" height="1" fill="#0000ff"/>
<rect x="573" y="256" width="1" height="1" fill="#0000ff"/>
<rect x="573" y="257" width="1" height="1" fill="#0000ff"/>
<rect x="573" y="258" width="1" height="1" fill="#0000ff"/>
<rect x="574" y="262" width="1" height="1" fill="#0000ff"/>
<rect x="574" y="263" width="1" height="1" fill="#0000ff"/>
<rect x="575" y="264" width="1" height="1" fill="#0000ff"/>
<rect x="576" y="268" width="1" height="1" fill="#0000ff"/>
<rect x="576" y="269" width="1" height="1" fill="#0000ff"/>
<rect x="576" y="270" width="1" height="1" fill="#0000ff"/>
<rect x="577" y="274" width="1" height="1" fill="#0000ff"/>
<rect x="577" y="275" width="1" height="1" fill="#0000ff"/>
<rect x="577" y="276" width="1" height="1" fill="#0000ff"/>
<rect x="578" y="280" width="1" height="1" fill="#0000ff"/>
<rect x="578" y="281" width="1" height="1" fill="#0000ff"/>
<rect x="579" y="282" width="1" height="1" fill="#0000ff"/>
<rect x="579" y="286" width="1" height="1" fill="#0000ff"/>
<rect x="580" y="287" width="1" height="1" fill="#0000ff"/>
<rect x="580" y="288" width="1" height="1" fill="#0000ff"/>
<rect x="581" y="292" width="1" height="1" fill="#0000ff"/>
<rect x="581" y="293" width="1" height="1" fill="#0000ff"/>
<rect x="581" y="294" width="1" height="1" fill="#0000ff"/>
<rect x="582" y="298" width="1" height="1" fill="#0000ff"/>
<rect x="582" y="299" width="1" height="1" fill="#0000ff"/>
<rect x="582" y="300" width="1" height="1" fill="#0000ff"/>
<rect x="583" y="304" width="1" height="1" fill="#0000ff"/>
<rect x="584" y="305" width="1" height="1" fill="#0000ff"/>
<rect x="584" y="306" width="1" height="1" fill="#0000ff"/>
<rect x="585" y="310" width="1" height="1" fill="#0000ff"/>
<rect x="585" y="311" width="1" height="1" fill="#0000ff"/>
<rect x="585" y="312" width="1" height="1" fill="#0000ff"/>
<rect x="586" y="316" width="1" height="1" fill="#0000ff"/>
<rect x="586" y="317" width="1" height="1" fill="#0000ff"/>
<rect x="586" y="318" width="1" height="1" fill="#0000ff"/>
<rect x="587" y="322" width="1" height="1" fill="#0000ff"/>
<rect x="587" y="323" width="1" height="1" fill="#0000ff"/>
<rect x="588" y="324" width="1" height="1" fill="#0000ff"/>
<rect x="589" y="328" width="1" height="1" fill="#0000ff"/>
<rect x="589" y="329" width="1" height="1" fill="#0000ff"/>
<rect x="589" y="330" width="1" height="1" fill="#0000ff"/>
<rect x="590" y="334" width="1" height="1" fill="#0000ff"/>
<rect x="590" y="335" width="1" height="1" fill="#0000ff"/>
<rect x="590" y="336" width="1" height="1" fill="#0000ff"/>
<rect x="591" y="340" width="1" height="1" fill="#0000ff"/>
<rect x="591" y="341" width="1" height="1" fill="#0000ff"/>
<rect x="592" y="342" width="1" height="1" fill="#0000ff"/>
<rect x="592" y="346" width="1" height="1" fill="#0000ff"/>
<rect x="593" y="347" width="1" height="1" fill="#0000ff"/>
<rect x="593" y="348" width="1" height="1" fill="#0000ff"/>
<rect x="594" y="352" width="1" height="1" fill="#0000ff"/>
<rect x="594" y="353" width="1" height="1" fill="#0000ff"/>
<rect x="594" y="354" width="1" height="1" fill="#0000ff"/>
<rect x="595" y="358" width="1" height="1" fill="#0000ff"/>
<rect x="595" y="359" width="1" height="1" fill="#0000ff"/>
<rect x="595" y="360" width="1" height="1" fill="#0000ff"/>
<rect x="596" y="364" width="1" height="1" fill="#0000ff"/>
<rect x="597" y="365" width="1" height="1" fill="#0000ff"/>
<rect x="597" y="366" width="1" height="1" fill="#0000ff"/>
<rect x="598" y="370" width="1" height="1" fill="#0000ff"/>
<rect x="598" y="371" width="1" height="1" fill="#0000ff"/>
<rect x="598" y="372" width="1" height="1" fill="#0000ff"/>
<rect x="599" y="376" width="1" height="1" fill="#0000ff"/>
<rect x="599" y="377" width="1" height="1" fill="#0000ff"/>
<rect x="599" y="378" width="1" height="1" fill="#0000ff"/>
<rect x="600" y="382" width="1" height="1" fill="#0000ff"/>
<rect x="600" y="383" width="1" height="1" fill="#0000ff"/>
<rect x="601" y="384" width="1" height="1" fill="#0000ff"/>
<rect x="602" y="388" width="1" height="1" fill="#0000ff"/>
<rect x="602" y="389" width="1" height="1" fill="#0000ff"/>
<rect x="603" y="390" width="3" height="1" fill="#0000ff"/>
<rect x="609" y="390" width="3" height="1" fill="#0000ff"/>
<rect x="615" y="390" width="3" height="1" fill="#0000ff"/>
<rect x="621" y="390" width="3" height="1" fill="#0000ff"/>
<rect x="627" y="390" width="3" height="1" fill="#0000ff"/>
<rect x="633" y="390" width="3" height="1" fill="#0000ff"/>
<rect x="639" y="390" width="3" height="1" fill="#0000ff"/>
<rect x="645" y="390" width="3" height="1" fill="#0000ff"/>
<rect x="651" y="390" width="3" height="1" fill="#0000ff"/>
<rect x="657" y="390" width="3" height="1" fill="#0000ff"/>
</g>
<g shape-rendering="crispEdges">
<rect x="602" y="150" width="57" height="1" fill="#2ec08c"/>
<rect x="602" y="196" width="57" height="1" fill="#9ac61e"/>
<rect x="602" y="241" width="57" height="1" fill="#28c828"/>
<rect x="602" y="298" width="57" height="1" fill="#808080"/>
</g>
<g shape-rendering="crispEdges">
<rect x="92.0" y="477" width="1" height="6" fill="#45b582"/>
<rect x="97.0" y="477" width="1" height="5" fill="#45b582"/>
<rect x="102.0" y="477" width="1" height="10" fill="#45b582"/>
<rect x="107.0" y="477" width="1" height="13" fill="#45b582"/>
<rect x="112.0" y="477" width="1" height="15" fill="#45b582"/>
<rect x="117.0" y="477" width="1" height="15" fill="#45b582"/>
<rect x="122.0" y="477" width="1" height="15" fill="#45b582"/>
<rect x="127.0" y="477" width="1" height="13" fill="#45b582"/>
<rect x="132.0" y="477" width="1" height="10" fill="#45b582"/>
<rect x="137.0" y="477" width="1" height="9" fill="#45b582"/>
<rect x="142.0" y="477" width="1" height="5" fill="#45b582"/>
<rect x="147.0" y="477" width="1" height="6" fill="#45b582"/>
<rect x="152.0" y="477" width="1" height="8" fill="#45b582"/>
<rect x="157.0" y="477" width="1" height="17" fill="#45b582"/>
<rect x="162.0" y="477" width="1" height="27" fill="#45b582"/>
<rect x="167.0" y="477" width="1" height="31" fill="#45b582"/>
<rect x="172.0" y="477" width="1" height="27" fill="#45b582"/>
<rect x="177.0" y="477" width="1" height="24" fill="#45b582"/>
<rect x="182.0" y="477" width="1" height="23" fill="#45b582"/>
<rect x="187.0" y="477" width="1" height="17" fill="#45b582"/>
<rect x="192.0" y="477" width="1" height="12" fill="#45b582"/>
<rect x="197.0" y="477" width="1" height="3" fill="#45b582"/>
<rect x="202.0" y="472" width="1" height="6" fill="#e8475a"/>
<rect x="207.0" y="464" width="1" height="14" fill="#e8475a"/>
<rect x="212.0" y="454" width="1" height="24" fill="#e8475a"/>
<rect x="217.0" y="457" width="1" height="21" fill="#e8475a"/>
<rect x="222.0" y="458" width="1" height="20" fill="#e8475a"/>
<rect x="227.0" y="463" width="1" height="15" fill="#e8475a"/>
<rect x="232.0" y="469" width="1" height="9" fill="#e8475a"/>
<rect x="237.0" y="468" width="1" height="10" fill="#e8475a"/>
<rect x="242.0" y="466" width="1" height="12" fill="#e8475a"/>
<rect x="247.0" y="469" width="1" height="9" fill="#e8475a"/>
<rect x="252.0" y="475" width="1" height="3" fill="#e8475a"/>
<rect x="257.0" y="477" width="1" height="3" fill="#45b582"/>
<rect x="262.0" y="477" width="1" height="8" fill="#45b582"/>
<rect x="267.0" y="477" width="1" height="6" fill="#45b582"/>
<rect x="272.0" y="477" width="1" height="16" fill="#45b582"/>
<rect x="277.0" y="477" width="1" height="22" fill="#45b582"/>
<rect x="282.0" y="477" width="1" height="18" fill="#45b582"/>
<rect x="287.0" y="477" width="1" height="13" fill="#45b582"/>
<rect x="292.0" y="477" width="1" height="4" fill="#45b582"/>
<rect x="297.0" y="472" width="1" height="6" fill="#e8475a"/>
<rect x="302.0" y="463" width="1" height="15" fill="#e8475a"/>
<rect x="307.0" y="457" width="1" height="21" fill="#e8475a"/>
<rect x="312.0" y="453" width="1" height="25" fill="#e8475a"/>
<rect x="317.0" y="451" width="1" height="27" fill="#e8475a"/>
<rect x="322.0" y="452" width="1" height="26" fill="#e8475a"/>
<rect x="327.0" y="452" width="1" height="26" fill="#e8475a"/>
<rect x="332.0" y="457" width="1" height="21" fill="#e8475a"/>
<rect x="337.0" y="462" width="1" height="16" fill="#e8475a"/>
<rect x="342.0" y="473" width="1" height="5" fill="#e8475a"/>
<rect x="347.0" y="477" width="1" height="7" fill="#45b582"/>
<rect x="352.0" y="477" width="1" height="22" fill="#45b582"/>
<rect x="357.0" y="477" width="1" height="29" fill="#45b582"/>
<rect x="362.0" y="477" width="1" height="33" fill="#45b582"/>
<rect x="367.0" y="477" width="1" height="31" fill="#45b582"/>
<rect x="372.0" y="477" width="1" height="29" fill="#45b582"/>
<rect x="377.0" y="477" width="1" height="27" fill="#45b582"/>
<rect x="382.0" y="477" width="1" height="26" fill="#45b582"/>
<rect x="387.0" y="477" width="1" height="27" fill="#45b582"/>
<rect x="392.0" y="477" width="1" height="22" fill="#45b582"/>
<rect x="397.0" y="477" width="1" height="15" fill="#45b582"/>
<rect x="402.0" y="477" width="1" height="13" fill="#45b582"/>
<rect x="407.0" y="477" width="1" height="14" fill="#45b582"/>
<rect x="412.0" y="477" width="1" height="16" fill="#45b582"/>
<rect x="417.0" y="477" width="1" height="21" fill="#45b582"/>
<rect x="422.0" y="477" width="1" height="24" fill="#45b582"/>
<rect x="427.0" y="477" width="1" height="23" fill="#45b582"/>
<rect x="432.0" y="477" width="1" height="18" fill="#45b582"/>
<rect x="437.0" y="477" width="1" height="15" fill="#45b582"/>
<rect x="442.0" y="477" width="1" height="4" fill="#45b582"/>
<rect x="447.0" y="465" width="1" height="13" fill="#e8475a"/>
<rect x="452.0" y="449" width="1" height="29" fill="#e8475a"/>
<rect x="457.0" y="441" width="1" height="37" fill="#e8475a"/>
<rect x="462.0" y="435" width="1" height="43" fill="#e8475a"/>
<rect x="467.0" y="435" width="1" height="43" fill="#e8475a"/>
<rect x="472.0" y="435" width="1" height="43" fill="#e8475a"/>
<rect x="477.0" y="435" width="1" height="43" fill="#e8475a"/>
<rect x="482.0" y="435" width="1" height="43" fill="#e8475a"/>
<rect x="487.0" y="436" width="1" height="42" fill="#e8475a"/>
<rect x="492.0" y="436" width="1" height="42" fill="#e8475a"/>
<rect x="497.0" y="445" width="1" height="33" fill="#e8475a"/>
<rect x="502.0" y="438" width="1" height="40" fill="#e8475a"/>
<rect x="507.0" y="435" width="1" height="43" fill="#e8475a"/>
<rect x="512.0" y="435" width="1" height="43" fill="#e8475a"/>
<rect x="517.0" y="435" width="1" height="43" fill="#e8475a"/>
<rect x="522.0" y="440" width="1" height="38" fill="#e8475a"/>
<rect x="527.0" y="455" width="1" height="23" fill="#e8475a"/>
<rect x="532.0" y="460" width="1" height="18" fill="#e8475a"/>
<rect x="537.0" y="467" width="1" height="11" fill="#e8475a"/>
<rect x="542.0" y="471" width="1" height="7" fill="#e8475a"/>
<rect x="547.0" y="473" width="1" height="5" fill="#e8475a"/>
</g>
<clipPath id="cm"><rect x="90" y="412" width="570" height="136"/></clipPath>
<g clip-path="url(#cm)"><path d="M92.2 487.4 L98.2 489.0 L104.8 490.7 L111.3 493.0 L117.9 494.9 L124.5 496.9 L131.1 498.2 L137.7 499.2 L144.3 499.9 L150.8 501.5 L155.8 503.8 L162.4 508.1 L169.0 512.7 L175.5 517.0 L182.8 520.3 L190.3 522.3 L198.6 522.6 L205.2 520.9 L211.7 517.0 L216.7 514.4 L221.6 512.1 L226.6 510.4 L233.1 508.8 L239.7 507.1 L244.7 505.8 L249.6 505.1 L254.5 505.1 L259.5 505.8 L264.4 506.5 L269.4 507.8 L274.3 510.4 L279.2 513.0 L284.2 514.7 L289.1 515.3 L295.7 514.7 L302.3 511.4 L308.9 507.8 L315.5 503.8 L320.1 501.9 L320.0 502.2 L326.6 498.9 L336.5 494.0 L343.0 493.3 L349.6 494.9 L356.2 499.5 L362.8 505.5 L369.4 510.4 L377.6 515.3 L387.5 520.9 L394.1 524.2 L402.3 526.9 L410.5 529.2 L417.1 532.8 L423.7 536.7 L430.3 539.4 L436.9 541.0 L443.5 542.7 L450.0 539.4 L455.0 535.1 L461.6 527.9 L468.1 520.3 L474.7 512.7 L481.3 505.5 L487.9 498.2 L492.8 493.3 L497.8 489.0 L502.7 484.1 L507.7 478.5 L512.6 472.6 L517.5 467.6 L522.5 464.3 L527.4 462.0 L532.3 459.4 L537.3 458.1 L542.2 458.1 L547.2 457.4" fill="none" stroke="#3fb884" stroke-width="0.8" shape-rendering="crispEdges"/>
<path d="M92.2 489.7 L98.2 490.7 L104.8 494.9 L111.3 498.9 L117.9 500.5 L124.5 502.8 L131.1 503.8 L137.7 503.2 L144.3 503.2 L150.8 504.8 L155.8 508.8 L162.4 518.6 L169.0 525.2 L175.5 527.5 L182.8 530.2 L190.3 527.5 L198.6 521.9 L205.2 513.7 L211.7 506.5 L216.7 503.8 L221.6 502.2 L226.6 503.2 L233.1 503.8 L239.7 502.2 L244.7 500.9 L249.6 502.2 L254.5 505.5 L259.5 508.1 L264.4 510.4 L269.4 512.7 L274.3 518.6 L279.2 522.6 L284.2 522.9 L289.1 520.3 L295.7 513.7 L302.3 505.5 L308.9 497.2 L315.5 491.3 L320.1 489.0 L320.0 489.0 L326.6 485.7 L336.5 486.4 L343.0 491.6 L349.6 500.5 L356.2 513.0 L362.8 521.3 L369.4 524.6 L377.6 527.5 L387.5 533.5 L394.1 532.8 L402.3 532.5 L410.5 536.1 L417.1 541.7 L422.7 547.3 L430.3 547.6 L436.9 547.3 L443.5 541.7 L450.0 528.5 L455.0 518.6 L461.6 506.5 L468.1 498.9 L474.7 490.7 L481.3 484.1 L487.9 478.1 L492.8 474.2 L497.8 475.8 L502.7 466.0 L507.7 459.4 L512.6 454.4 L517.5 449.5 L522.5 446.2 L527.4 447.2 L532.3 450.2 L537.3 452.8 L542.2 454.8 L547.2 454.1" fill="none" stroke="#2f8af0" stroke-width="0.8" shape-rendering="crispEdges"/></g>
<path d="M92.5 610.2 L97.5 613.5 L102.5 625.0 L107.5 628.0 L112.5 631.3 L117.5 632.6 L122.5 628.3 L127.5 633.2 L132.5 620.7 L137.5 628.3 L142.5 618.1 L147.5 627.3 L152.5 633.9 L157.5 647.1 L162.5 659.2 L167.5 650.3 L172.5 640.5 L177.5 642.8 L182.5 650.3 L187.5 630.6 L192.5 632.6 L197.5 620.7 L202.5 619.1 L207.5 609.2 L212.5 597.0 L217.5 614.1 L222.5 614.8 L227.5 625.7 L232.5 627.3 L237.5 615.1 L242.5 615.1 L247.5 621.4 L252.5 633.9 L257.5 632.9 L262.5 640.5 L267.5 625.0 L272.5 643.8 L277.5 649.4 L282.5 633.9 L287.5 625.7 L292.5 613.5 L297.5 611.8 L302.5 602.6 L307.5 599.3 L312.5 598.7 L317.5 596.0 L322.5 605.2 L327.5 599.3 L332.5 610.8 L337.5 611.8 L342.5 632.9 L347.5 634.5 L352.5 650.3 L357.5 653.0 L362.5 653.0 L367.5 646.4 L372.5 644.8 L377.5 646.4 L382.5 653.0 L387.5 660.2 L392.5 647.7 L397.5 636.2 L402.5 643.8 L407.5 651.3 L412.5 653.6 L417.5 661.9 L422.5 665.2 L427.5 658.6 L432.5 650.3 L437.5 654.6 L442.5 630.6 L447.5 607.6 L452.5 597.0 L457.5 599.3 L462.5 594.4 L467.5 601.0 L472.5 596.0 L477.5 591.1 L482.5 590.1 L487.5 592.1 L492.5 583.5 L497.5 605.9 L502.5 576.9 L507.5 572.3 L512.5 573.0 L517.5 570.7 L522.5 577.9 L527.5 588.8 L532.5 600.0 L537.5 596.7 L542.5 593.7 L547.5 588.5" fill="none" stroke="#2aa6e0" stroke-width="0.8" shape-rendering="crispEdges"/>
</svg>
<!-- sidebar -->
<div class="tab" style="top:0;height:50px;"><span style="margin-top:7px">分</span><span>时</span><span>图</span></div>
<div class="tab on" style="top:51px;height:45px;"><span style="margin-top:4px;font-weight:400">K</span><span style="margin-top:1.5px">线</span><span style="margin-top:-1.8px">图</span></div>
<div class="tab" style="top:97px;height:52px;"><span style="margin-top:7.3px">闪</span><span>电</span><span>图</span></div>
<div class="tab" style="top:150px;height:63.5px;"><span style="margin-top:6.1px">合</span><span>约</span><span>资</span><span>料</span></div>

<!-- header -->
<div class="t hd" style="left:91px;color:#000;">美元日元</div>
<div class="t hd" style="left:137.6px;color:#ff7a00;">【</div>
<div class="t hd" style="left:151px;color:#ff7a00;">60分</div>
<div class="t hd" style="left:177.6px;color:#ff7a00;">】</div>
<svg style="position:absolute;left:188px;top:6px" width="12" height="12" viewBox="0 0 12 12"><circle cx="5.700" cy="5.700" r="4.100" fill="none" stroke="#ff8a20" stroke-width=".9"/><path d="M1.600 5.700H9.800M5.700 1.600V9.800" stroke="#ff8a20" stroke-width=".9"/></svg>
<svg style="position:absolute;left:205px;top:0px" width="14" height="15" viewBox="205 0 14 15"><rect x="206.500" y="1.500" width="11" height="12" fill="#fff" stroke="#1a1a80"/><path d="M207 13.300H218M217.300 2V13.500" stroke="#1a1a80" stroke-width="1.400"/><path d="M207.800 8L209.700 4.900L212.200 6.800L216.500 4.300" stroke="#f01828" stroke-width="1.100" fill="none"/><path d="M207.800 11.100L210.900 8L213.400 9.900L216.800 6.800" stroke="#1830d8" stroke-width="1.100" fill="none"/></svg>
<div class="t hd" style="left:221px;color:#111;">MA(200,0,0,0,0,0)</div>
<div class="t hd" style="left:325px;color:#3a8ff0;">MA200:151.732</div>
<div class="t hd" style="left:421px;color:#4cbc8c;">MA0:150.779</div>
<div class="t hd" style="left:505px;color:#4aa8e0;">MA</div>

<!-- top-right icons -->
<svg style="position:absolute;left:596px;top:1px" width="62" height="14" viewBox="0 0 62 14">
<g shape-rendering="crispEdges">
<rect x=".5" y=".5" width="13" height="13" fill="#fff" stroke="#1e78d2"/>
<rect x="16.5" y=".5" width="13" height="13" fill="#fff" stroke="#1e78d2"/>
<rect x="32" y="0" width="14" height="14" fill="#1e78d2"/>
<rect x="48.5" y=".5" width="13" height="13" fill="#fff" stroke="#1e78d2"/>
<rect x="2" y="6" width="3" height="2" fill="#1e78d2"/><rect x="9" y="6" width="3" height="2" fill="#1e78d2"/><rect x="6" y="2" width="2" height="3" fill="#1e78d2"/><rect x="6" y="9" width="2" height="3" fill="#1e78d2"/>
<rect x="19" y="3" width="1" height="9" fill="#1e78d2"/><rect x="18" y="10" width="10" height="1" fill="#1e78d2"/>
<rect x="22" y="3" width="1" height="6" fill="#1e78d2"/><rect x="26" y="3" width="1" height="6" fill="#1e78d2"/>
<rect x="35" y="3" width="1" height="9" fill="#fff"/><rect x="34" y="10" width="10" height="1" fill="#fff"/>
<rect x="37.5" y="3.5" width="1" height="5.5" fill="#fff"/>
<rect x="50.5" y="2.5" width="3" height="9" fill="#fff" stroke="#1e78d2"/>
<rect x="53" y="6" width="5" height="2" fill="#1e78d2"/>
</g>
<path d="M19.5 1.5l-1.8 2h3.6zM19.5 12.8l-1.8-1.6h3.6zM17.2 10.5l2-1.6v3.2zM28.8 10.5l-2-1.6v3.2z" fill="#1e78d2"/>
<path d="M23 6l3-2.6v5.2z" fill="#1e78d2"/>
<path d="M35.500 1.5l-1.800 2h3.600zM35.500 12.8l-1.800-1.600h3.600zM33.200 10.500l2-1.600v3.200zM44.800 10.500l-2-1.600v3.200z" fill="#fff"/>
<path d="M38.500 3.300L43 6.200L38.500 9.100z" fill="#fff"/><path d="M39.500 5L41.300 6.200L39.500 7.400z" fill="#9cc4ee"/>
<path d="M57 3.600L60.200 7L57 10.400z" fill="#1e78d2"/>
</svg>

<div class="t ax" style="left:662.6px;top:14.3px;">152.997</div>
<div class="t ax r" style="left:20px;width:65.2px;top:14.3px">152.997</div>
<div class="t ax" style="left:662.6px;top:69.3px;">152.443</div>
<div class="t ax r" style="left:20px;width:65.2px;top:69.3px">152.443</div>
<div class="t ax" style="left:662.6px;top:125.3px;">151.890</div>
<div class="t ax r" style="left:20px;width:65.2px;top:125.3px">151.890</div>
<div class="t ax" style="left:662.6px;top:181.3px;">151.337</div>
<div class="t ax r" style="left:20px;width:65.2px;top:181.3px">151.337</div>
<div class="t ax" style="left:662.6px;top:236.3px;">150.784</div>
<div class="t ax r" style="left:20px;width:65.2px;top:236.3px">150.784</div>
<div class="t ax" style="left:662.6px;top:292.3px;">150.230</div>
<div class="t ax r" style="left:20px;width:65.2px;top:292.3px">150.230</div>
<div class="t ax" style="left:662.6px;top:348.3px;">149.677</div>
<div class="t ax r" style="left:20px;width:65.2px;top:348.3px">149.677</div>
<div class="t ax" style="left:662.6px;top:424.8px;">0.203</div>
<div class="t ax r" style="left:20px;width:65.2px;top:424.8px">0.203</div>
<div class="t ax" style="left:662.6px;top:447.8px;">0.097</div>
<div class="t ax r" style="left:20px;width:65.2px;top:447.8px">0.097</div>
<div class="t ax" style="left:662.6px;top:471.3px;">-0.009</div>
<div class="t ax r" style="left:20px;width:65.2px;top:471.3px">-0.009</div>
<div class="t ax" style="left:662.6px;top:494.3px;">-0.115</div>
<div class="t ax r" style="left:20px;width:65.2px;top:494.3px">-0.115</div>
<div class="t ax" style="left:662.6px;top:517.3px;">-0.221</div>
<div class="t ax r" style="left:20px;width:65.2px;top:517.3px">-0.221</div>
<div class="t ax" style="left:662.6px;top:563.3px;">64.696</div>
<div class="t ax r" style="left:20px;width:65.2px;top:563.3px">64.696</div>
<div class="t ax" style="left:662.6px;top:587.3px;">54.184</div>
<div class="t ax r" style="left:20px;width:65.2px;top:587.3px">54.184</div>
<div class="t ax" style="left:662.6px;top:611.3px;">43.671</div>
<div class="t ax r" style="left:20px;width:65.2px;top:611.3px">43.671</div>
<div class="t ax" style="left:662.6px;top:635.3px;">33.159</div>
<div class="t ax r" style="left:20px;width:65.2px;top:635.3px">33.159</div>

<!-- hi / lo labels -->
<div class="t fib" style="left:523px;top:188.5px;color:#e8405a;">151.197</div>
<div class="t fib" style="left:433px;top:386.5px;color:#4cba88;">149.377</div>

<!-- fib labels -->
<div class="t fib" style="left:569.5px;top:135.5px;color:#2ec08c;">0.618 \ 151.720</div>
<div class="t fib" style="left:569.5px;top:182px;color:#9ac61e;">0.500 \ 151.264</div>
<div class="t fib" style="left:569.5px;top:226.5px;color:#28c828;">0.382 \ 150.808</div>
<div class="t fib" style="left:569.5px;top:283.5px;color:#808080;">0.236 \ 150.244</div>

<!-- price box -->
<div style="position:absolute;left:659px;top:245px;width:67px;height:16px;border:1px solid #ff8000;background:#fff;"></div>
<div class="t ax" style="left:663px;top:247px;color:#ff8a1a;">150.778</div>
<svg style="position:absolute;left:717px;top:236px" width="12" height="10" viewBox="717 236 12 10"><path d="M723.200 237L727 240.800H719.400z" fill="#ff8000"/><path d="M723.200 241.200L727.600 245.500H718.700z" fill="#ff8000"/></svg>

<!-- panel titles -->
<div class="t ttl" style="left:91px;top:414px;color:#111;letter-spacing:.05px">MACD(26,12,9)</div>
<div class="t ttl" style="left:181.5px;top:414px;color:#3a8ff0;letter-spacing:-.24px">DIFF:0.104</div>
<div class="t ttl" style="left:248.5px;top:414px;color:#4cbc8c;letter-spacing:-.19px">DEA:0.092</div>
<div class="t ttl" style="left:314.5px;top:414px;color:#4aa8e0;letter-spacing:.15px">MACD:0.024</div>
<div class="t ttl" style="left:91px;top:551.7px;color:#111;letter-spacing:-.15px">RSI(14,14,14)</div>
<div class="t ttl" style="left:171px;top:551.7px;color:#3a8ff0;">RSI1:57.140</div>
<div class="t ttl" style="left:245.5px;top:551.7px;color:#4cbc8c;">RSI2:57.140</div>
<div class="t ttl" style="left:320px;top:551.7px;color:#4aa8e0;">RSI3:57.140</div>

<!-- sun icon -->
<svg style="position:absolute;left:20px;top:548px" width="17" height="17" viewBox="20 548 17 17"><polygon points="26.5,552.5 29.5,552.5 31.5,554.5 31.5,557.5 29.5,559.5 26.5,559.5 24.5,557.5 24.5,554.5" fill="#fff" stroke="#000" stroke-width="1.1"/><g shape-rendering="crispEdges" fill="#ff0000"><rect x="27" y="554" width="2" height="4"/><rect x="26" y="555" width="4" height="2"/><rect x="27" y="549" width="1" height="2"/><rect x="27" y="561" width="1" height="2"/><rect x="21" y="555" width="2" height="1"/><rect x="33" y="555" width="2" height="1"/><rect x="22" y="550" width="1" height="1"/><rect x="23" y="551" width="1" height="1"/><rect x="33" y="550" width="1" height="1"/><rect x="32" y="551" width="1" height="1"/><rect x="23" y="560" width="1" height="1"/><rect x="22" y="561" width="1" height="1"/><rect x="32" y="560" width="1" height="1"/><rect x="33" y="561" width="1" height="1"/></g></svg>

<!-- bottom -->
<div style="position:absolute;left:19px;top:666px;width:69px;height:18px;border:1px solid #d2dbe6;border-bottom:none;box-sizing:border-box;background:#fff;"></div>
<div class="t" style="left:33px;top:669.5px;color:#ff7a00;font-weight:500;font-size:12.5px;">60分</div>
<div class="t" style="left:62.2px;top:668.6px;color:#ff7a00;font-size:14.5px;">▲</div>
<div class="t" style="left:110px;top:667.5px;color:#111;font-weight:bold;font-size:12px;">10/15</div>
<div class="t" style="left:350px;top:667.5px;color:#111;font-weight:bold;font-size:12px;">10/17</div>

<!-- mascot -->
<div style="position:absolute;left:195px;top:279px;width:28px;height:28px;border-radius:50%;background:#fff;box-shadow:0 0 5px rgba(0,0,0,.13),0 0 0 .6px rgba(0,0,0,.13);"></div>
<div style="position:absolute;left:197px;top:281px;width:24px;height:24px;border-radius:50%;background:conic-gradient(from 0deg,#e0d4ff,#f8b8f0 10%,#ffc0e0 18%,#ffe0c8 26%,#f4f070 36%,#98ec50 44%,#50e070 55%,#70eec0 64%,#90f0f0 72%,#d0f6ff 82%,#f0f4ff 90%,#e0d4ff);filter:blur(1.1px);"></div>
<svg style="position:absolute;left:195px;top:279px" width="28" height="28" viewBox="195 279 28 28">
<defs><filter id="bl"><feGaussianBlur stdDeviation=".45"/></filter></defs>
<g filter="url(#bl)">
<path d="M201.500 291 L203.200 284.200 L207 286.200 Q209 285.600 211 286.200 L214.600 284 L216.400 291 Q217.600 296 214.500 300 Q209 304 203.500 300 Q200.400 296 201.500 291z" fill="#fff"/>
<path d="M201.300 291.600 Q201 289.800 203 289.700 L211.800 288.900 Q213.600 288.900 213.500 290.800 L213.200 293 Q213 294.400 211.500 294.500 L203.600 295.300 Q201.600 295.300 201.400 293.600z" fill="#ff7808"/>
<path d="M204 295.400 Q206 297 208 295.200z" fill="#3a1808"/>
<rect x="203.500" y="291" width="1.500" height="2" fill="#c05000"/><rect x="209" y="290.500" width="1.500" height="2" fill="#c05000"/>
<path d="M217 287.300 L218.200 289.800 L220.500 291 L218.200 292.200 L217 294.700 L215.800 292.200 L213.500 291 L215.800 289.800z" fill="#ffe818"/>
<path d="M209 297.500l2-2" stroke="#c8c8c8" stroke-width=".7"/>
</g>
</svg>

<!-- watermark -->
<div class="t" style="left:600px;top:631px;font-size:30px;line-height:34px;height:34px;letter-spacing:2.6px;color:#d7e3f4;text-shadow:1px 1px 1px rgba(150,120,90,.6);">FX678</div>
</div>
</body>
</html>
